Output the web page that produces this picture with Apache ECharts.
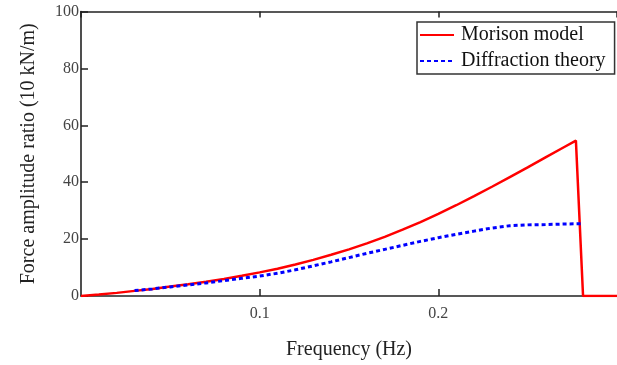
<!DOCTYPE html>
<html>
<head>
<meta charset="utf-8">
<script src="https://cdn.jsdelivr.net/npm/echarts@6/dist/echarts.min.js"></script>
<style>html,body{margin:0;padding:0;background:#fff}#c{width:617px;height:365px}</style>
</head>
<body>
<div id="c"></div>
<script>
const seriesNames = ['Morison model', 'Diffraction theory'];
const morisonFreq = [0, 0.01, 0.02, 0.03, 0.04, 0.05, 0.06, 0.07, 0.08, 0.09, 0.10, 0.11, 0.12, 0.13, 0.14, 0.15, 0.16, 0.17, 0.18, 0.19, 0.20, 0.21, 0.22, 0.23, 0.24, 0.25, 0.26, 0.27, 0.277, 0.281, 0.30];
const morisonValue = [0, 0.5, 1.1, 1.8, 2.5, 3.3, 4.1, 5.0, 6.0, 7.1, 8.3, 9.6, 11.1, 12.7, 14.5, 16.4, 18.5, 20.8, 23.3, 26.0, 28.9, 31.9, 35.1, 38.4, 41.8, 45.2, 48.7, 52.2, 54.6, 0, 0];
const diffFreq = [0.03, 0.04, 0.05, 0.06, 0.07, 0.08, 0.09, 0.10, 0.11, 0.12, 0.13, 0.14, 0.15, 0.16, 0.17, 0.18, 0.19, 0.20, 0.21, 0.22, 0.23, 0.24, 0.25, 0.26, 0.27, 0.281];
const diffValue = [1.9, 2.5, 3.2, 3.9, 4.6, 5.4, 6.2, 7.0, 8.0, 9.2, 10.6, 12.0, 13.5, 15.0, 16.4, 17.8, 19.2, 20.5, 21.7, 22.8, 23.9, 24.7, 25.0, 25.1, 25.3, 25.4];
const xTicks = [0, 0.1, 0.2, 0.3];
const yTicks = [0, 20, 40, 60, 80, 100];
const xTitle = 'Frequency (Hz)';
const yTitle = 'Force amplitude ratio (10 kN/m)';

const serif = '"Liberation Serif", "DejaVu Serif", serif';
const chart = echarts.init(document.getElementById('c'));
const pair = (xs, ys) => xs.map((x, i) => [x, ys[i]]);
const axisLine = { lineStyle: { color: '#222', width: 1.6 } };
chart.setOption({
  animation: false,
  grid: { left: 81, top: 11.5, height: 288.5, width: 543 },
  legend: {
    orient: 'vertical', left: 417, top: 22,
    padding: [3, 9, 3, 2], itemGap: 6, itemWidth: 34, itemHeight: 14,
    borderColor: '#333', borderWidth: 1.5, backgroundColor: '#fff',
    itemStyle: { opacity: 0 },
    textStyle: { fontFamily: serif, fontSize: 20, color: '#111', lineHeight: 20, padding: [0, 0, 0, 2] },
    data: seriesNames
  },
  xAxis: [{
    type: 'value', min: xTicks[0], max: xTicks[xTicks.length - 1], interval: 0.1,
    name: xTitle, nameLocation: 'middle', nameGap: 44,
    nameTextStyle: { fontFamily: serif, fontSize: 20, color: '#222' },
    axisLine: axisLine,
    axisTick: { inside: true, length: 7, lineStyle: { color: '#222', width: 1.5 } },
    axisLabel: { showMinLabel: false, showMaxLabel: false, margin: 10, fontFamily: serif, fontSize: 16, color: '#444' },
    splitLine: { show: false }
  }, {
    type: 'value', position: 'top', min: xTicks[0], max: xTicks[xTicks.length - 1], interval: 0.1,
    axisLine: axisLine,
    axisTick: { inside: true, length: 6, lineStyle: { color: '#222', width: 1.5 } },
    axisLabel: { show: false }, splitLine: { show: false }
  }],
  yAxis: {
    type: 'value', min: yTicks[0], max: yTicks[yTicks.length - 1], interval: 20,
    name: yTitle, nameLocation: 'middle', nameGap: 42,
    nameTextStyle: { fontFamily: serif, fontSize: 20, color: '#222' },
    axisLine: axisLine,
    axisTick: { inside: true, length: 7, lineStyle: { color: '#222', width: 1.5 } },
    axisLabel: { margin: 2, fontFamily: serif, fontSize: 16, color: '#444' },
    splitLine: { show: false }
  },
  series: [{
    name: seriesNames[0], type: 'line', symbol: 'none', z: 2,
    data: pair(morisonFreq, morisonValue),
    lineStyle: { color: '#ff0000', width: 2.5 }, itemStyle: { color: '#ff0000' }
  }, {
    name: seriesNames[1], type: 'line', symbol: 'none', z: 3,
    data: pair(diffFreq, diffValue),
    lineStyle: { color: '#0000ff', width: 3, type: [4, 3] }, itemStyle: { color: '#0000ff' }
  }]
});
</script>
</body>
</html>
